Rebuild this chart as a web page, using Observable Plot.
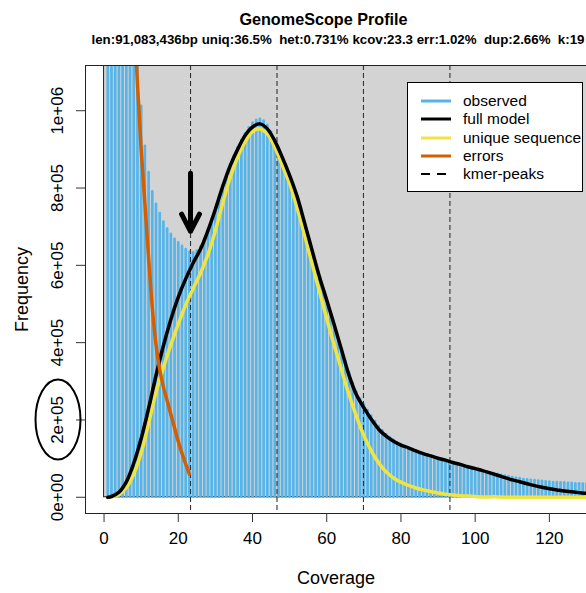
<!DOCTYPE html>
<html><head><meta charset="utf-8">
<script src="https://cdn.jsdelivr.net/npm/d3@7"></script>
<script src="https://cdn.jsdelivr.net/npm/@observablehq/plot@0.6"></script>
<style>
body{margin:0;background:#fff;font-family:"Liberation Sans",Arial,sans-serif;}
#wrap{position:relative;width:586px;height:593px;overflow:hidden;background:#fff;}
.ttl{position:absolute;white-space:pre;font-weight:bold;color:#000;text-align:center;z-index:3;}
#legend{position:absolute;left:407px;top:82px;width:174px;height:108px;border:1px solid #000;background:#fff;z-index:3;}
.lrow{position:absolute;left:0;height:18px;width:174px;}
.ltext{position:absolute;left:55px;top:0;line-height:18px;font-size:15.5px;color:#000;white-space:pre;}
.lsvg{position:absolute;left:13px;top:6px;}
#wrap svg.plotsvg{position:absolute;left:0;top:0;z-index:1;}
</style></head><body>
<div id="wrap">
  <div class="ttl" id="title" style="left:0;width:647px;top:8.5px;font-size:16.2px;line-height:20px;"></div>
  <div class="ttl" id="subtitle" style="left:0;width:676px;top:32px;font-size:13.3px;line-height:16px;"></div>
</div>
<script>
// ---- data ----
const titleText = "GenomeScope Profile";
const subtitleText = "len:91,083,436bp uniq:36.5%  het:0.731% kcov:23.3 err:1.02%  dup:2.66%  k:19";

// observed k-mer histogram, coverage 1..133
const observed = [
  12500000, 5400000, 3100000, 2200000, 1780000, 1520000, 1360000, 1240000, 1150000,
  1011000, 908000, 840000, 790000, 758000, 734000, 712000, 694000, 680000, 667000,
  658000, 649000, 641000, 634000, 632000, 637000, 648000, 668000, 692000, 718000,
  746000, 776000, 806000, 834000, 860000, 882000, 903000, 923000, 940000, 956000,
  968000, 975000, 978000, 973000, 962000, 945000, 925000, 903000, 880000, 856000,
  831000, 806000, 776000, 743000, 708000, 673000, 638000, 603000, 569000, 537000,
  506000, 475000, 445000, 414000, 383000, 352000, 322000, 295000, 272000, 254000,
  239000, 224000, 210000, 196000, 183000, 172000, 162000, 154000, 147000, 141000,
  136000, 131000, 127000, 123000, 119000, 115000, 112000, 109000, 106000, 103000,
  100000, 97000, 94000, 91000, 88000, 86000, 83000, 81000, 78000, 76000,
  73000, 71000, 68000, 66000, 63000, 61000, 59000, 57000, 55000, 53000,
  51000, 49000, 48000, 46000, 45000, 44000, 43000, 42000, 41000, 40000,
  39000, 38000, 38000, 37000, 37000, 36000, 36000, 35000, 35000, 34000,
  34000, 33000, 33000, 32000
];

const modelCoverage = [1, 2, 4, 6, 8, 10, 12, 14, 16, 18, 20, 22, 24, 26, 28, 30, 32, 34, 36, 38,
  40, 42, 44, 46, 48, 50, 52, 54, 56, 58, 60, 62, 64, 66, 68, 70, 72, 74, 76, 78,
  80, 82, 84, 86, 88, 90, 92, 94, 96, 98, 100, 102, 104, 106, 108, 110, 112, 114, 116, 118,
  120, 122, 124, 126, 128, 130, 132, 134];

const fullModel = [0, 2000, 13000, 40000, 88000, 152000, 230000, 315000, 392000, 460000,
  518000, 565000, 606000, 642000, 690000, 745000, 805000, 858000, 900000, 936000,
  958000, 966000, 953000, 922000, 880000, 833000, 779000, 711000, 641000, 572000,
  510000, 447000, 381000, 316000, 265000, 232000, 202000, 176000, 158000, 145000,
  135000, 128000, 120000, 113000, 107000, 101000, 96000, 90000, 85000, 79000,
  74000, 69000, 63000, 57000, 51000, 45000, 40000, 35000, 30000, 26000,
  22000, 19000, 16000, 14000, 12000, 10000, 9000, 8000];

const uniqueSequence = [0, 1000, 7000, 25000, 60000, 115000, 190000, 272000, 336000, 395000,
  448000, 498000, 540000, 580000, 628000, 690000, 762000, 828000, 880000, 920000,
  946000, 953000, 940000, 906000, 860000, 812000, 750000, 680000, 606000, 534000,
  462000, 394000, 329000, 266000, 210000, 160000, 120000, 89000, 66000, 50000,
  39000, 31000, 24000, 19000, 15000, 11000, 8000, 6000, 4000, 3000,
  2000, 1000, 1000, 1000, 0, 0, 0, 0, 0, 0,
  0, 0, 0, 0, 0, 0, 0, 0];

const errorCoverage = [6, 7, 8, 9, 10, 11, 12, 13, 14, 15, 16, 17, 18, 19, 20, 21, 22, 23];
const errorValues = [1700000, 1450000, 1250000, 1070000, 900000, 760000, 620000, 490000, 395000,
  330000, 285000, 250000, 214000, 180000, 144000, 114000, 86000, 60000];

const kmerPeaks = [23.3, 46.6, 69.9, 93.2];

const xTicks = [0, 20, 40, 60, 80, 100, 120];
const yTicks = [0, 200000, 400000, 600000, 800000, 1000000];
const yTickLabels = ["0e+00", "2e+05", "4e+05", "6e+05", "8e+05", "1e+06"];

const legendLabels = ["observed", "full model", "unique sequence", "errors", "kmer-peaks"];
const legendColors = ["#56B4E9", "#000000", "#F0E442", "#D55E00", "#000000"];
const legendDash = [null, null, null, null, "9,7"];

const arrowAnnotation = [{coverage: 23.3, from: 838000, to: 688000}];
const circledTick = 200000;

// ---- build tables ----
const obsData = observed.map((v, i) => ({coverage: i + 1, frequency: v}));
const fullData = modelCoverage.map((c, i) => ({coverage: c, frequency: fullModel[i]}));
const uniqueData = modelCoverage.map((c, i) => ({coverage: c, frequency: uniqueSequence[i]}));
const errData = errorCoverage.map((c, i) => ({coverage: c, frequency: errorValues[i]}));
const bg = [{x2: d3.max(obsData, d => d.coverage) * 1.1, y2: d3.max(observed) * 1.1}];

document.getElementById("title").textContent = titleText;
document.getElementById("subtitle").textContent = subtitleText;

const font = "'Liberation Sans', Arial, sans-serif";

const plot = Plot.plot({
  width: 586, height: 593,
  marginTop: 65, marginBottom: 80, marginLeft: 85, marginRight: 0,
  x: {domain: [-5, 130]},
  y: {domain: [-42000, 1117000]},
  style: {fontFamily: font, fontSize: "17px", color: "black", background: "transparent", overflow: "visible"},
  marks: [
    Plot.rect(bg, {x1: 0, x2: "x2", y1: 0, y2: "y2", fill: "#D3D3D3", stroke: "#222", strokeWidth: 1, clip: true}),
    Plot.ruleX(obsData, {x: "coverage", y1: 0, y2: "frequency", stroke: "#56B4E9", strokeWidth: 2.7, strokeLinecap: "round", clip: true}),
    Plot.ruleX(kmerPeaks, {stroke: "#333", strokeWidth: 1.1, strokeDasharray: "5,3"}),
    Plot.line(uniqueData, {x: "coverage", y: "frequency", stroke: "#F0E442", strokeWidth: 3.5, curve: "catmull-rom", clip: true}),
    Plot.line(fullData, {x: "coverage", y: "frequency", stroke: "#000", strokeWidth: 3.5, curve: "catmull-rom", clip: true}),
    Plot.line(errData, {x: "coverage", y: "frequency", stroke: "#D55E00", strokeWidth: 3.5, curve: "catmull-rom", clip: true}),
    Plot.arrow(arrowAnnotation, {x1: "coverage", x2: "coverage", y1: "from", y2: "to", stroke: "#000", strokeWidth: 5, headAngle: 55}),
    Plot.ruleY([-42000], {stroke: "#222"}),
    Plot.ruleY([1117000], {stroke: "#222"}),
    Plot.ruleX([-5], {stroke: "#222"}),
    Plot.axisX(xTicks, {tickSize: 9, tickPadding: 9, fontSize: 17, label: null, stroke: "#333"}),
    Plot.axisY(yTicks, {tickSize: 9, fill: "none", label: null, stroke: "#333"}),
    Plot.text(yTicks, {y: d => d, text: (d, i) => yTickLabels[i], frameAnchor: "left", textAnchor: "middle", lineAnchor: "middle", dx: -28, rotate: -90, fontSize: 17, fill: "#000"}),
    Plot.text(["Coverage"], {text: d => d, frameAnchor: "bottom", textAnchor: "middle", lineAnchor: "middle", dy: 65, fontSize: 18, fill: "#000"}),
    Plot.text(["Frequency"], {text: d => d, frameAnchor: "left", textAnchor: "middle", lineAnchor: "middle", dx: -63, rotate: -90, fontSize: 18, fill: "#000"}),
    (index, scales, values, dims) => {
      const e = d3.create("svg:ellipse")
        .attr("cx", dims.marginLeft - 27)
        .attr("cy", scales.y(circledTick))
        .attr("rx", 22.5).attr("ry", 40)
        .attr("fill", "none").attr("stroke", "#000").attr("stroke-width", 2);
      return e.node();
    }
  ]
});
plot.classList.add("plotsvg");
document.getElementById("wrap").appendChild(plot);

// ---- legend ----
const legend = d3.select("#wrap").append("div").attr("id", "legend");
legendLabels.forEach((lab, i) => {
  const row = legend.append("div").attr("class", "lrow").style("top", (8.7 + 18.4 * i) + "px");
  const svg = row.append("svg").attr("class", "lsvg").attr("width", 30).attr("height", 6);
  svg.append("line").attr("x1", 0).attr("x2", 30).attr("y1", 3).attr("y2", 3)
    .attr("stroke", legendColors[i]).attr("stroke-width", legendDash[i] ? 2 : 3)
    .attr("stroke-dasharray", legendDash[i]);
  row.append("div").attr("class", "ltext").text(lab);
});
</script>
</body></html>
